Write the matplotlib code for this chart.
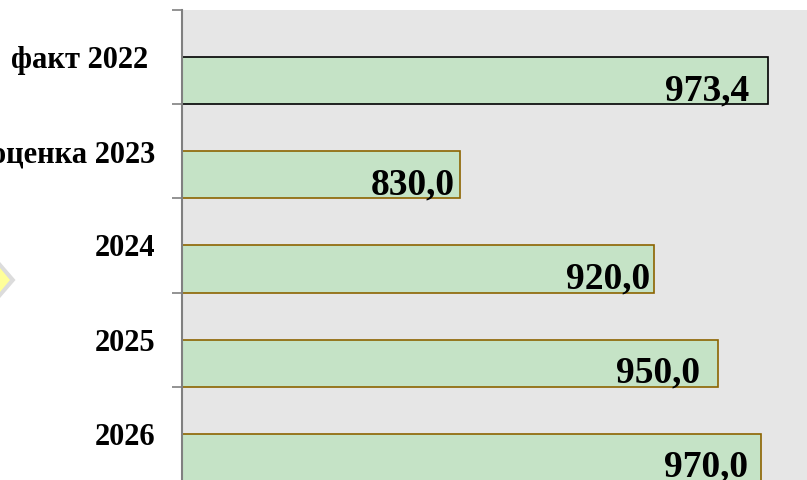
import numpy as np
import matplotlib.pyplot as plt
from matplotlib.patches import Polygon

categories = ["факт 2022 ", "оценка 2023", "2024", "2025", "2026"]
values = [973.4, 830.0, 920.0, 950.0, 970.0]
value_labels = ["973,4", "830,0", "920,0", "950,0", "970,0"]

# gap (px) between label end and bar end, as placed in the original
label_gap = [19, 6, 3, 18, 13]
edge_colors = ["black", "#8C6400", "#8C6400", "#8C6400", "#8C6400"]

plt.rcParams['font.family'] = ['Liberation Serif', 'DejaVu Serif']

fig = plt.figure(figsize=(8.07, 4.8), dpi=100)
ax = fig.add_axes([182 / 807, -1 / 480, 1 - 182 / 807, 471 / 480])
ax.set_facecolor("#E6E6E6")

y = np.arange(len(categories))
ax.barh(y, values, height=0.5, align='edge', left=0, color="#C5E3C6",
        edgecolor=edge_colors, linewidth=1.2, zorder=2)

for yi, v, lab, g in zip(y, values, value_labels, label_gap):
    ax.annotate(lab, xy=(v, yi + 0.5), xytext=(-g * 0.72, 3), textcoords='offset points',
                ha='right', va='baseline', fontsize=27, fontweight='bold', zorder=3)

ax.set_xlim(700.3, 991.5)
ax.set_ylim(len(categories) - 0.5, -0.5)

ax.set_yticks(np.arange(-0.5, len(categories)), labels=[])
ax.set_yticks(y, labels=categories, minor=True)
ax.tick_params(axis='y', which='major', length=7, width=1.2, color='#808080', direction='out')
ax.tick_params(axis='y', which='minor', length=0, pad=19, labelsize=22)
for t in ax.get_yticklabels(minor=True):
    t.set_fontweight('bold')

ax.set_xticks([])
for s in ['top', 'right', 'bottom']:
    ax.spines[s].set_visible(False)
ax.spines['left'].set_color('#808080')
ax.spines['left'].set_linewidth(1.5)

# yellow arrow shape peeking in at the left edge
W, H = 807, 480
outer = [(0, 262), (15.5, 280), (0, 298)]
inner = [(0, 268), (10, 280), (0, 292)]
for pts, fc in [(outer, "#DCDCDC"), (inner, "#FFFF99")]:
    fig.patches.append(Polygon([(x / W, 1 - yy / H) for x, yy in pts], closed=True,
                               transform=fig.transFigure, facecolor=fc,
                               edgecolor='none', zorder=0))

fig.savefig("out.png", dpi=100)
